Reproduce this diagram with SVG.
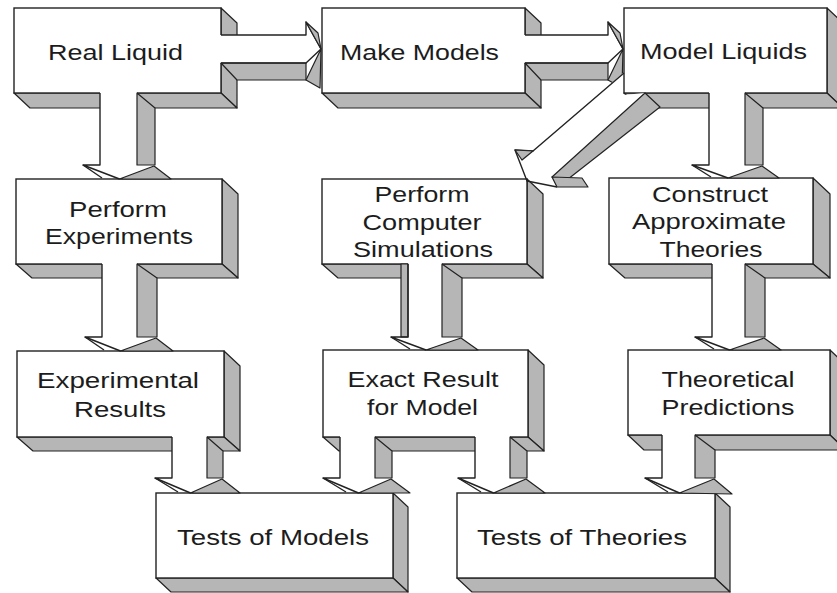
<svg xmlns="http://www.w3.org/2000/svg" width="837" height="593" viewBox="0 0 837 593">
<style>
.face{fill:#fff;stroke:#222;stroke-width:1.4}
.side{fill:#b6b6b6;stroke:#222;stroke-width:1.2;stroke-linejoin:round}
.ln{fill:none;stroke:#222;stroke-width:1.4;stroke-linejoin:round}
.wh{fill:#fff;stroke:none}
.lbl{font-family:"Liberation Sans",Arial,sans-serif;font-size:22px;fill:#1c1c1c;text-anchor:middle}
</style>
<rect width="837" height="593" fill="#fff"/>
<g id="real-liquid">
<polygon class="side" points="221,8 237,23 237,108 221,93"/>
<polygon class="side" points="14,93 221,93 237,108 30,108"/>
<rect class="face" x="14" y="8" width="207" height="85"/>
<text class="lbl" x="115.5" y="60" textLength="135" lengthAdjust="spacingAndGlyphs">Real Liquid</text>
</g>
<g id="make-models">
<polygon class="side" points="525,8 541,23 541,108 525,93"/>
<polygon class="side" points="322,93 525,93 541,108 338,108"/>
<rect class="face" x="322" y="8" width="203" height="85"/>
<text class="lbl" x="419.5" y="60" textLength="159" lengthAdjust="spacingAndGlyphs">Make Models</text>
</g>
<g id="model-liquids">
<polygon class="side" points="827,8 843,23 843,108 827,93"/>
<polygon class="side" points="624,93 827,93 843,108 640,108"/>
<rect class="face" x="624" y="8" width="203" height="85"/>
<text class="lbl" x="723.5" y="59" textLength="167" lengthAdjust="spacingAndGlyphs">Model Liquids</text>
</g>
<g id="perform-experiments">
<polygon class="side" points="222,179 238,194 238,278 222,264"/>
<polygon class="side" points="16,264 222,264 238,278 32,278"/>
<rect class="face" x="16" y="179" width="206" height="85"/>
<text class="lbl" x="118" y="217" textLength="98" lengthAdjust="spacingAndGlyphs">Perform</text>
<text class="lbl" x="119" y="244" textLength="148" lengthAdjust="spacingAndGlyphs">Experiments</text>
</g>
<g id="perform-simulations">
<polygon class="side" points="527,179 543,194 543,278 527,264"/>
<polygon class="side" points="322,264 527,264 543,278 338,278"/>
<rect class="face" x="322" y="179" width="205" height="85"/>
<text class="lbl" x="422" y="202" textLength="95" lengthAdjust="spacingAndGlyphs">Perform</text>
<text class="lbl" x="422" y="230" textLength="119" lengthAdjust="spacingAndGlyphs">Computer</text>
<text class="lbl" x="423" y="257" textLength="140" lengthAdjust="spacingAndGlyphs">Simulations</text>
</g>
<g id="construct-theories">
<polygon class="side" points="813,178 830,194 830,278 813,264"/>
<polygon class="side" points="609,264 813,264 830,278 625,278"/>
<rect class="face" x="609" y="178" width="204" height="86"/>
<text class="lbl" x="710" y="202" textLength="116" lengthAdjust="spacingAndGlyphs">Construct</text>
<text class="lbl" x="709" y="229" textLength="154" lengthAdjust="spacingAndGlyphs">Approximate</text>
<text class="lbl" x="711" y="257" textLength="103" lengthAdjust="spacingAndGlyphs">Theories</text>
</g>
<g id="experimental-results">
<polygon class="side" points="224,351 240,366 240,451 224,437"/>
<polygon class="side" points="17,437 224,437 240,451 33,451"/>
<rect class="face" x="17" y="351" width="207" height="86"/>
<text class="lbl" x="118" y="388" textLength="162" lengthAdjust="spacingAndGlyphs">Experimental</text>
<text class="lbl" x="120" y="417" textLength="92" lengthAdjust="spacingAndGlyphs">Results</text>
</g>
<g id="exact-result">
<polygon class="side" points="528,350 544,365 544,451 528,437"/>
<polygon class="side" points="323,437 528,437 544,451 339,451"/>
<rect class="face" x="323" y="350" width="205" height="87"/>
<text class="lbl" x="423" y="387" textLength="151" lengthAdjust="spacingAndGlyphs">Exact Result</text>
<text class="lbl" x="422.5" y="415" textLength="111" lengthAdjust="spacingAndGlyphs">for Model</text>
</g>
<g id="theoretical-predictions">
<polygon class="side" points="830,350 846,365 846,450 830,435"/>
<polygon class="side" points="628,435 830,435 846,450 644,450"/>
<rect class="face" x="628" y="350" width="202" height="85"/>
<text class="lbl" x="728" y="387" textLength="133" lengthAdjust="spacingAndGlyphs">Theoretical</text>
<text class="lbl" x="728" y="415" textLength="133" lengthAdjust="spacingAndGlyphs">Predictions</text>
</g>
<g id="tests-of-models">
<polygon class="side" points="393,493 408,507 408,592 393,578"/>
<polygon class="side" points="156,578 393,578 408,592 171,592"/>
<rect class="face" x="156" y="493" width="237" height="85"/>
<text class="lbl" x="273" y="545" textLength="192" lengthAdjust="spacingAndGlyphs">Tests of Models</text>
</g>
<g id="tests-of-theories">
<polygon class="side" points="715,493 730,507 730,592 715,578"/>
<polygon class="side" points="457,578 715,578 730,592 472,592"/>
<rect class="face" x="457" y="493" width="258" height="85"/>
<text class="lbl" x="582" y="545" textLength="210" lengthAdjust="spacingAndGlyphs">Tests of Theories</text>
</g>
<g id="connectors">
<g>
<rect class="wh" x="220" y="35" width="86" height="28"/>
<polygon class="side" points="221,63 237,80 306,80 306,63"/>
<polyline class="ln" points="221,35 306,35 306,22 321,49"/>
<polygon class="side" points="306,22 318,33 321,49"/>
<polyline class="ln" points="221,63 306,63 321,49"/>
<polygon class="side" points="321,49 306,80 320,88"/>
</g>
<g>
<rect class="wh" x="524" y="35" width="84" height="28"/>
<polygon class="side" points="525,63 541,80 608,80 608,63"/>
<polyline class="ln" points="525,35 608,35 608,22 623,49"/>
<polygon class="side" points="608,22 620,33 623,49"/>
<polyline class="ln" points="525,63 608,63 623,49"/>
<polygon class="side" points="623,49 608,80 622,88"/>
</g>
<g>
<polygon class="wh" points="623,73 623,95 645,93 552,177 533,151"/>
<polygon class="side" points="645,93 660,107 563,183 552,177"/>
<polyline class="ln" points="624,73 533,151 515,150 527,181 557,187"/>
<polygon class="side" points="515,150 533,151 522,160"/>
<polygon class="side" points="552,177 582,178 588,187 557,187"/>
</g>
<g>
<rect class="wh" x="100" y="92" width="37" height="73"/>
<polygon class="side" points="137,93 155,108 155,165 137,165"/>
<polyline class="ln" points="100,93 100,165 83,165 119.5,179"/>
<line class="ln" x1="83" y1="165" x2="102" y2="178"/>
<polygon class="side" points="119.5,179 154,166 171,179"/>
</g>
<g>
<rect class="wh" x="102" y="263" width="35" height="74"/>
<polygon class="side" points="137,264 157,278 157,337 137,337"/>
<polyline class="ln" points="102,264 102,337 85,337 120.5,351"/>
<line class="ln" x1="85" y1="337" x2="104" y2="350"/>
<polygon class="side" points="120.5,351 156,338 173,351"/>
</g>
<g>
<rect class="wh" x="408" y="263" width="34" height="74"/>
<polygon class="side" points="401,264 408,264 408,337 401,337"/>
<polygon class="side" points="442,264 462,278 462,337 442,337"/>
<polyline class="ln" points="408,264 408,337 391,337 426,350"/>
<line class="ln" x1="391" y1="337" x2="410" y2="349"/>
<polygon class="side" points="426,350 461,338 478,350"/>
</g>
<g>
<rect class="wh" x="709" y="92" width="36" height="73"/>
<polygon class="side" points="745,93 763,108 763,165 745,165"/>
<polyline class="ln" points="709,93 709,165 692,165 728,178"/>
<line class="ln" x1="692" y1="165" x2="711" y2="177"/>
<polygon class="side" points="728,178 762,166 779,178"/>
</g>
<g>
<rect class="wh" x="712" y="263" width="33" height="74"/>
<polygon class="side" points="745,264 765,278 765,337 745,337"/>
<polyline class="ln" points="712,264 712,337 695,337 729.5,350"/>
<line class="ln" x1="695" y1="337" x2="714" y2="349"/>
<polygon class="side" points="729.5,350 764,338 781,350"/>
</g>
<g>
<rect class="wh" x="172" y="436" width="35" height="42"/>
<polygon class="side" points="207,437 223,451 223,478 207,478"/>
<polyline class="ln" points="172,437 172,478 155,478 190.5,493"/>
<line class="ln" x1="155" y1="478" x2="178" y2="492"/>
<polygon class="side" points="190.5,493 222,479 240,493"/>
</g>
<g>
<rect class="wh" x="340" y="436" width="35" height="42"/>
<polygon class="side" points="375,437 392,451 392,478 375,478"/>
<polyline class="ln" points="340,437 340,478 323,478 358.5,493"/>
<line class="ln" x1="323" y1="478" x2="346" y2="492"/>
<polygon class="side" points="358.5,493 391,479 410,493"/>
</g>
<g>
<rect class="wh" x="475" y="436" width="35" height="42"/>
<polygon class="side" points="510,437 527,451 527,478 510,478"/>
<polyline class="ln" points="475,437 475,478 458,478 493.5,493"/>
<line class="ln" x1="458" y1="478" x2="481" y2="492"/>
<polygon class="side" points="493.5,493 526,479 545,493"/>
</g>
<g>
<rect class="wh" x="662" y="434" width="33" height="44"/>
<polygon class="side" points="695,435 715,450 715,478 695,478"/>
<polyline class="ln" points="662,435 662,478 645,478 679.5,493"/>
<line class="ln" x1="645" y1="478" x2="668" y2="492"/>
<polygon class="side" points="679.5,493 714,479 732,494"/>
</g>
</g>
</svg>
